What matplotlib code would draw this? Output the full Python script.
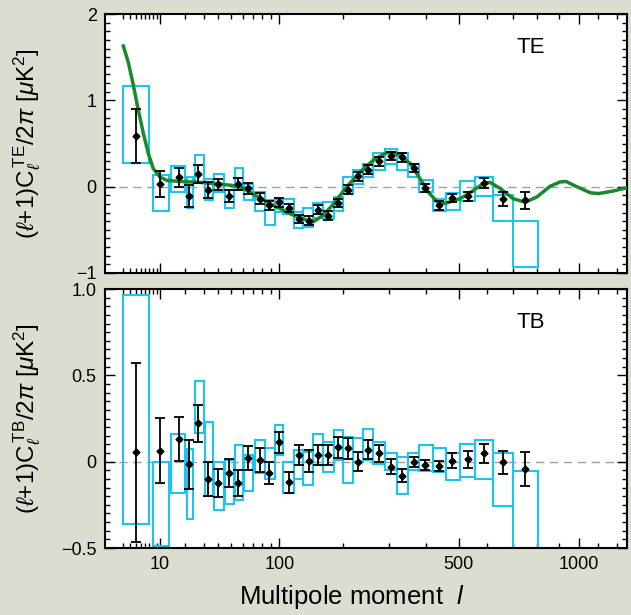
"""
WMAP TE / TB 편광 파워 스펙트럼 재현 (2 패널, l^0.4 x축).
"""
import matplotlib

matplotlib.use("Agg")
import matplotlib.pyplot as plt
import numpy as np
from matplotlib.ticker import FixedLocator, MultipleLocator, NullFormatter

plt.rcParams["font.family"] = ["Liberation Sans", "DejaVu Sans"]
plt.rcParams["mathtext.fontset"] = "custom"
plt.rcParams["mathtext.rm"] = "Liberation Sans"
plt.rcParams["mathtext.it"] = "Liberation Sans:italic"
plt.rcParams["mathtext.bf"] = "Liberation Sans:bold"

# ---- 데이터 ----
# bin 경계 (cyan box 의 l 범위) - TE / TB 공통
bin_lo = [2, 8, 14, 21, 25, 31, 37, 45, 53, 61, 72, 83, 95, 105, 119, 133, 148,
          165, 183, 201, 221, 242, 264, 291, 320, 350, 379, 419, 459, 505, 556, 623, 702]
bin_hi = [7, 13, 20, 24, 30, 36, 44, 52, 60, 70, 83, 95, 105, 119, 133, 148, 165,
          183, 201, 221, 242, 264, 291, 320, 350, 379, 419, 459, 505, 556, 623, 702, 808]

# 점(error bar) 의 l 위치 - TE / TB 공통
pt_l = [4, 10, 17, 22, 27, 33, 40, 48, 56, 65, 77, 88, 99, 112, 126, 141, 156, 173,
        191, 210, 230, 253, 277, 306, 334, 364, 397, 438, 480, 531, 590, 662, 750]

te_val = [0.587, 0.03, 0.109, -0.11, 0.147, -0.035, 0.027, -0.113, 0.027, -0.02,
          -0.14, -0.218, -0.18, -0.245, -0.374, -0.393, -0.265, -0.335, -0.19, -0.035,
          0.12, 0.198, 0.295, 0.354, 0.338, 0.217, -0.016, -0.218, -0.128, -0.113,
          0.047, -0.145, -0.16]
te_err = [0.31, 0.155, 0.11, 0.13, 0.1, 0.093, 0.063, 0.07, 0.068, 0.066,
          0.062, 0.05, 0.05, 0.05, 0.05, 0.05, 0.05, 0.05, 0.05, 0.05,
          0.05, 0.05, 0.05, 0.05, 0.05, 0.05, 0.047, 0.047, 0.047, 0.055,
          0.058, 0.078, 0.1]
te_box_lo = [0.27, -0.285, -0.063, -0.25, 0.054, -0.16, -0.063, -0.25, -0.043, -0.16,
             -0.277, -0.44, -0.296, -0.315, -0.48, -0.47, -0.36, -0.374, -0.277, -0.082,
             0.035, 0.112, 0.198, 0.268, 0.19, 0.112, -0.063, -0.277, -0.265, -0.168,
             -0.113, -0.40, -0.93]
te_box_hi = [1.17, 0.13, 0.237, 0.112, 0.362, 0.093, 0.144, -0.043, 0.217, 0.035,
             -0.063, -0.16, -0.14, -0.14, -0.296, -0.245, -0.19, -0.18, -0.12, 0.112,
             0.198, 0.268, 0.385, 0.432, 0.392, 0.268, 0.074, -0.14, -0.075, 0.065,
             0.112, -0.1, -0.40]

# 이론 TE 곡선 (녹색)
model_l = [2.1, 2.77, 3.56, 4.47, 5.52, 6.7, 8.0, 10, 12.3, 17.6, 27.9, 41.1, 50,
           57.5, 65, 77, 89, 100, 113, 128, 142, 150, 165, 183, 208, 235, 264, 291,
           303, 328, 355, 382, 406, 436, 460, 505, 539, 586, 611, 649, 702, 750,
           801, 860, 907, 936, 988, 1056, 1100, 1181, 1257, 1290]
model_te = [1.63, 1.44, 1.18, 0.89, 0.62, 0.385, 0.21, 0.112, 0.073, 0.06, 0.05, 0.03,
            0.015, 0.0, -0.05, -0.13, -0.2, -0.25, -0.31, -0.36, -0.395, -0.40, -0.33,
            -0.2, 0.0, 0.17, 0.307, 0.385, 0.397, 0.365, 0.268, 0.093, -0.063, -0.19,
            -0.19, -0.14, -0.07, 0.035, 0.05, -0.02, -0.14, -0.18, -0.12, 0.004, 0.055,
            0.06, 0.0, -0.07, -0.08, -0.05, -0.012, 0.0]

tb_val = [0.054, 0.064, 0.131, -0.015, 0.222, -0.1, -0.125, -0.067, -0.125, 0.023,
          0.01, -0.067, 0.112, -0.12, 0.036, 0.002, 0.039, 0.039, 0.083, 0.077,
          0.0, 0.068, 0.049, -0.029, -0.08, 0.0, -0.019, -0.025, 0.006, 0.014,
          0.049, -0.004, -0.042]
tb_err = [0.52, 0.19, 0.127, 0.143, 0.106, 0.1, 0.08, 0.08, 0.075, 0.07,
          0.068, 0.063, 0.062, 0.06, 0.058, 0.064, 0.06, 0.06, 0.06, 0.06,
          0.055, 0.055, 0.05, 0.042, 0.037, 0.03, 0.03, 0.03, 0.043, 0.05,
          0.056, 0.068, 0.098]
tb_box_lo = [-0.363, -0.486, -0.183, -0.33, 0.164, -0.199, -0.28, -0.245, -0.222, -0.17,
             -0.065, -0.1, 0.037, -0.18, -0.102, -0.133, -0.019, -0.058, 0.01, -0.122,
             0.0, 0.01, -0.013, -0.05, -0.188, -0.05, -0.052, -0.058, -0.106, -0.087,
             -0.102, -0.258, -0.65]
tb_box_hi = [0.965, 0.0, 0.159, 0.074, 0.467, 0.232, 0.0, 0.01, 0.097, 0.039,
             0.128, 0.082, 0.21, -0.003, 0.068, 0.056, 0.159, 0.112, 0.184, 0.145,
             0.135, 0.188, 0.116, 0.05, 0.03, 0.049, 0.097, 0.077, 0.049, 0.1,
             0.128, 0.049, -0.056]

x_major = [10, 100, 500, 1000]
x_major_labels = ["10", "100", "500", "1000"]
x_minor = [2, 3, 4, 5, 6, 7, 8, 9, 20, 30, 40, 50, 60, 70, 80, 90,
           200, 300, 400, 600, 700, 800, 900, 1100, 1200]

BG = "#dcddd0"
CYAN = "#1cc4ee"
GREEN = "#178a2c"


def _fwd(x):
    x = np.asarray(x, dtype=float)
    return np.sign(x) * np.abs(x) ** 0.4


def _inv(x):
    x = np.asarray(x, dtype=float)
    return np.sign(x) * np.abs(x) ** 2.5


def draw_boxes(ax, lo_vals, hi_vals):
    width = np.array(bin_hi) - np.array(bin_lo)
    ax.bar(bin_lo, np.array(hi_vals) - np.array(lo_vals), width=width, bottom=lo_vals,
           align="edge", fill=False, edgecolor=CYAN, linewidth=1.5, zorder=2)


def style_axis(ax, yticks, ylabels, yminor, ylim, show_x):
    ax.set_xscale("function", functions=(_fwd, _inv))
    ax.set_xlim(0.507, 1258)
    ax.set_ylim(*ylim)
    ax.axhline(0, color="#a0a0a0", lw=1.0, ls=(0, (6, 4)), zorder=1)

    ax.xaxis.set_major_locator(FixedLocator(x_major))
    ax.xaxis.set_minor_locator(FixedLocator(x_minor))
    ax.xaxis.set_minor_formatter(NullFormatter())
    if show_x:
        ax.set_xticklabels(x_major_labels)
    else:
        ax.set_xticklabels([])
    ax.set_yticks(yticks)
    ax.set_yticklabels(ylabels)
    ax.yaxis.set_minor_locator(MultipleLocator(yminor))

    ax.tick_params(which="both", direction="in", top=True, right=True,
                   width=1.0, labelsize=13, colors="black")
    ax.tick_params(which="major", length=7, pad=6)
    ax.tick_params(which="minor", length=3.5)
    for sp in ax.spines.values():
        sp.set_linewidth(1.5)
    ax.set_facecolor("white")


fig = plt.figure(figsize=(6.31, 6.15), dpi=100, facecolor=BG)
ax_te = fig.add_axes([0.1664, 0.5561, 0.8273, 0.4211])
ax_tb = fig.add_axes([0.1664, 0.1089, 0.8273, 0.4211])

# 상단: TE
draw_boxes(ax_te, te_box_lo, te_box_hi)
ax_te.plot(model_l, model_te, color=GREEN, lw=2.5, zorder=3)
ax_te.errorbar(pt_l, te_val, yerr=te_err, fmt="D", color="black", ms=3.5,
               elinewidth=1.3, capsize=3.5, capthick=1.3, zorder=4)
style_axis(ax_te, [-1, 0, 1, 2], ["\u22121", "0", "1", "2"], 0.1, (-1, 2), False)
ax_te.text(0.815, 0.87, "TE", transform=ax_te.transAxes, ha="center", va="center",
           fontsize=16)
ax_te.set_ylabel(r"$(\ell$+1)C$_\ell^{\,\rm TE}$/2$\pi$ [$\mu$K$^2$]", fontsize=17.5)
ax_te.yaxis.set_label_coords(-0.118, 0.5)

# 하단: TB
draw_boxes(ax_tb, tb_box_lo, tb_box_hi)
ax_tb.errorbar(pt_l, tb_val, yerr=tb_err, fmt="D", color="black", ms=3.5,
               elinewidth=1.3, capsize=3.5, capthick=1.3, zorder=4)
style_axis(ax_tb, [-0.5, 0, 0.5, 1.0], ["\u22120.5", "0", "0.5", "1.0"], 0.05,
           (-0.5, 1.0), True)
ax_tb.text(0.815, 0.87, "TB", transform=ax_tb.transAxes, ha="center", va="center",
           fontsize=16)
ax_tb.set_ylabel(r"$(\ell$+1)C$_\ell^{\,\rm TB}$/2$\pi$ [$\mu$K$^2$]", fontsize=17.5)
ax_tb.yaxis.set_label_coords(-0.118, 0.5)
ax_tb.set_xlabel(r"Multipole moment  $l$", fontsize=18.5)
ax_tb.xaxis.set_label_coords(0.473, -0.135)

fig.savefig("out.png", dpi=100, facecolor=BG)
plt.close(fig)
